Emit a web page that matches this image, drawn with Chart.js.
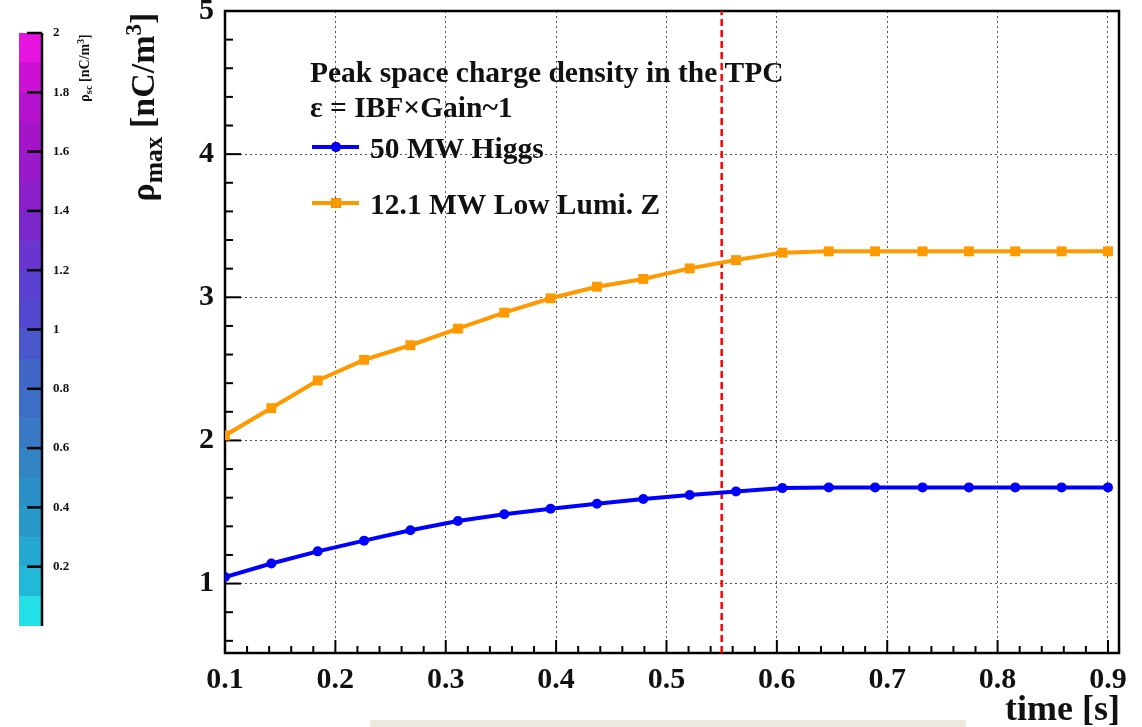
<!DOCTYPE html>
<html>
<head>
<meta charset="utf-8">
<script src="https://cdn.jsdelivr.net/npm/chart.js@4.4.1/dist/chart.umd.min.js"></script>
<style>
  html, body { margin: 0; padding: 0; background: #fff; }
  body {
    width: 1142px; height: 727px; position: relative; overflow: hidden;
    font-family: "Liberation Serif", "DejaVu Serif", serif; font-weight: bold; color: #111;
  }
  #cbar { position: absolute; left: 0; top: 0; }
  #main { position: absolute; left: 120px; top: 0; }
  .vtitle {
    position: absolute; white-space: nowrap; line-height: 1;
    transform: translate(-50%, -50%) rotate(-90deg);
  }
  .vtitle .sub { font-size: 0.75em; position: relative; top: 0.3em; }
  .vtitle .sup { font-size: 0.68em; position: relative; top: -0.55em; }
  #xtitle { position: absolute; right: 22px; top: 690px; font-size: 36px; line-height: 1; }
  #strip { position: absolute; left: 370px; top: 720px; width: 596px; height: 7px; background: #ede9df; }
</style>
</head>
<body>
<canvas id="cbar" width="120" height="727"></canvas>
<canvas id="main" width="1022" height="727"></canvas>
<div class="vtitle" style="left:85px; top:68px; font-size:14px;">ρ<span class="sub">sc</span> [nC/m<span class="sup">3</span>]</div>
<div class="vtitle" style="left:143px; top:107px; font-size:34px;">ρ<span class="sub">max</span> [nC/m<span class="sup">3</span>]</div>
<div id="xtitle">time [s]</div>
<div id="strip"></div>
<script>
// ── data ──
const timeS = [0.1, 0.142, 0.184, 0.226, 0.268, 0.311, 0.353, 0.395, 0.437, 0.479,
               0.521, 0.563, 0.605, 0.647, 0.689, 0.732, 0.774, 0.816, 0.858, 0.9];
const higgs = [1.046, 1.14, 1.225, 1.30, 1.372, 1.437, 1.484, 1.523, 1.558, 1.591,
               1.619, 1.644, 1.667, 1.672, 1.672, 1.672, 1.672, 1.672, 1.672, 1.672];
const lowLumiZ = [2.035, 2.226, 2.419, 2.563, 2.665, 2.781, 2.893, 2.993, 3.074, 3.128,
                  3.202, 3.26, 3.312, 3.321, 3.321, 3.321, 3.321, 3.321, 3.321, 3.321];
const seriesNames = ['50 MW Higgs', '12.1 MW Low Lumi. Z'];
const headerLines = ['Peak space charge density in the TPC', 'ε = IBF×Gain~1'];
const cutTime = 0.55;
const xRange = [0.1, 0.91];
const yRange = [0.515, 5];

// colour bar (palette bands)
const cbarLevels = [0, 0.1, 0.2, 0.3, 0.4, 0.5, 0.6, 0.7, 0.8, 0.9, 1.0,
                    1.1, 1.2, 1.3, 1.4, 1.5, 1.6, 1.7, 1.8, 1.9, 2.0];
const cbarColors = ['#22e0e6', '#22b8d8', '#24a8d0', '#2898c8', '#2c90c8', '#3284c4', '#3878c4',
                    '#3c6ec8', '#4066c8', '#4a58cc', '#5248d0', '#5a40d0', '#6a34d0', '#7a28cc',
                    '#8a1ec8', '#981ac8', '#a614c8', '#b412cc', '#cc10d4', '#e614e0'];

const SERIF = '"Liberation Serif", "DejaVu Serif", serif';
const INK = '#111';

function noPad(scale) {
    scale.paddingTop = 0; scale.paddingBottom = 0;
    scale.paddingLeft = 0; scale.paddingRight = 0;
}

// ──────────────────────────────────────────────
// COLOUR BAR
// ──────────────────────────────────────────────
const cbarAxis = {
    id: 'cbarAxis',
    afterDatasetsDraw(chart) {
        const { ctx, chartArea: a, scales: { y } } = chart;
        ctx.save();
        ctx.strokeStyle = '#000';
        ctx.lineWidth = 2.5;
        ctx.beginPath();
        ctx.moveTo(a.right + 1, a.top);
        ctx.lineTo(a.right + 1, a.bottom);
        ctx.stroke();
        y.ticks.forEach(t => {
            if (t.value === 0) return;
            const py = y.getPixelForValue(t.value);
            ctx.beginPath();
            ctx.moveTo(a.right - 14, py);
            ctx.lineTo(a.right + 1, py);
            ctx.stroke();
        });
        ctx.restore();
    }
};

new Chart(document.getElementById('cbar'), {
    type: 'bar',
    data: {
        labels: [''],
        datasets: cbarColors.map((c, i) => ({
            data: [[cbarLevels[i], cbarLevels[i + 1]]],
            backgroundColor: c,
            borderWidth: 0,
            barPercentage: 1,
            categoryPercentage: 1
        }))
    },
    options: {
        responsive: false,
        animation: false,
        devicePixelRatio: 1,
        layout: { padding: { left: 19, top: 33, bottom: 101, right: 0 } },
        plugins: { legend: { display: false }, tooltip: { enabled: false } },
        scales: {
            x: { display: false, stacked: true },
            y: {
                position: 'right',
                min: 0, max: 2,
                grid: { display: false, drawTicks: false },
                border: { display: false },
                ticks: {
                    stepSize: 0.2,
                    padding: 12,
                    color: INK,
                    font: { family: SERIF, size: 13, weight: 'bold' },
                    callback: v => (Math.abs(v) < 1e-9 ? '' : String(+v.toFixed(1)))
                },
                afterFit(scale) { scale.width = 79; noPad(scale); }
            }
        }
    },
    plugins: [cbarAxis]
});

// ──────────────────────────────────────────────
// MAIN GRAPH
// ──────────────────────────────────────────────
const frameTicks = {
    id: 'frameTicks',
    beforeDatasetsDraw(chart) {
        const { ctx, chartArea: a, scales: { x, y } } = chart;
        ctx.save();
        ctx.strokeStyle = '#000';
        ctx.lineWidth = 2;
        // y ticks every 0.2, major every 1
        for (let k = 3; k <= 25; k++) {
            const v = k * 0.2;
            const major = k % 5 === 0;
            const py = y.getPixelForValue(v);
            ctx.beginPath();
            ctx.moveTo(a.left, py);
            ctx.lineTo(a.left + (major ? 16 : 8), py);
            ctx.stroke();
        }
        // x ticks every 0.02, major every 0.1
        for (let k = 5; k <= 45; k++) {
            const v = k * 0.02;
            const major = k % 5 === 0;
            const px = x.getPixelForValue(v);
            ctx.beginPath();
            ctx.moveTo(px, a.bottom);
            ctx.lineTo(px, a.bottom - (major ? 13 : 7));
            ctx.stroke();
        }
        ctx.lineWidth = 2.5;
        ctx.strokeRect(a.left, a.top, a.width, a.height);
        ctx.restore();
    }
};

const legendBox = {
    id: 'legendBox',
    afterDatasetsDraw(chart) {
        const ctx = chart.ctx;
        ctx.save();
        ctx.font = 'bold 29.5px ' + SERIF;
        ctx.fillStyle = INK;
        ctx.textBaseline = 'alphabetic';
        ctx.fillText(headerLines[0], 190, 82);
        ctx.fillText(headerLines[1], 190, 117);
        const rows = [147, 203];
        seriesNames.forEach((name, i) => {
            const ds = chart.data.datasets[i];
            const ly = rows[i];
            ctx.strokeStyle = ds.borderColor;
            ctx.lineWidth = ds.borderWidth;
            ctx.beginPath();
            ctx.moveTo(192, ly);
            ctx.lineTo(239, ly);
            ctx.stroke();
            Chart.helpers.drawPoint(ctx, {
                pointStyle: ds.pointStyle, radius: ds.pointRadius, borderWidth: 0, rotation: 0
            }, 216, ly);
            ctx.fillStyle = ds.pointBackgroundColor;
            ctx.fill();
            ctx.fillStyle = INK;
            ctx.fillText(name, 250, ly + 11);
        });
        ctx.restore();
    }
};

const toPoints = ys => timeS.map((t, i) => ({ x: t, y: ys[i] }));

new Chart(document.getElementById('main'), {
    type: 'line',
    data: {
        datasets: [
            {
                label: seriesNames[0],
                data: toPoints(higgs),
                borderColor: '#0000ff',
                backgroundColor: '#0000ff',
                pointBackgroundColor: '#0000ff',
                borderWidth: 4,
                pointStyle: 'circle',
                pointRadius: 5,
                pointBorderWidth: 0,
                tension: 0,
                order: 0
            },
            {
                label: seriesNames[1],
                data: toPoints(lowLumiZ),
                borderColor: '#ff9900',
                backgroundColor: '#ff9900',
                pointBackgroundColor: '#ff9900',
                borderWidth: 4,
                pointStyle: 'rect',
                pointRadius: 7,
                pointBorderWidth: 0,
                tension: 0,
                order: 1
            },
            {
                label: 'cut',
                data: [{ x: cutTime, y: yRange[0] }, { x: cutTime, y: yRange[1] }],
                borderColor: '#ff0000',
                borderWidth: 2.5,
                borderDash: [7, 4],
                pointRadius: 0,
                order: 2
            }
        ]
    },
    options: {
        responsive: false,
        animation: false,
        devicePixelRatio: 1,
        layout: { padding: { left: 0, top: 11, right: 23, bottom: 0 } },
        plugins: { legend: { display: false }, tooltip: { enabled: false } },
        scales: {
            x: {
                type: 'linear',
                min: xRange[0], max: xRange[1],
                grid: { color: '#555', lineWidth: 1, drawTicks: false },
                border: { display: false, dash: [2, 3] },
                ticks: {
                    stepSize: 0.1,
                    includeBounds: false,
                    autoSkip: false,
                    maxRotation: 0,
                    padding: 9,
                    color: INK,
                    font: { family: SERIF, size: 30, weight: 'bold' },
                    callback: v => v.toFixed(1)
                },
                afterFit(scale) { scale.height = 74; noPad(scale); }
            },
            y: {
                min: yRange[0], max: yRange[1],
                grid: { color: '#555', lineWidth: 1, drawTicks: false },
                border: { display: false, dash: [2, 3] },
                ticks: {
                    stepSize: 1,
                    includeBounds: false,
                    padding: 11,
                    color: INK,
                    font: { family: SERIF, size: 30, weight: 'bold' },
                    callback: v => String(Math.round(v))
                },
                afterFit(scale) { scale.width = 105; noPad(scale); }
            }
        }
    },
    plugins: [frameTicks, legendBox]
});
</script>
</body>
</html>
